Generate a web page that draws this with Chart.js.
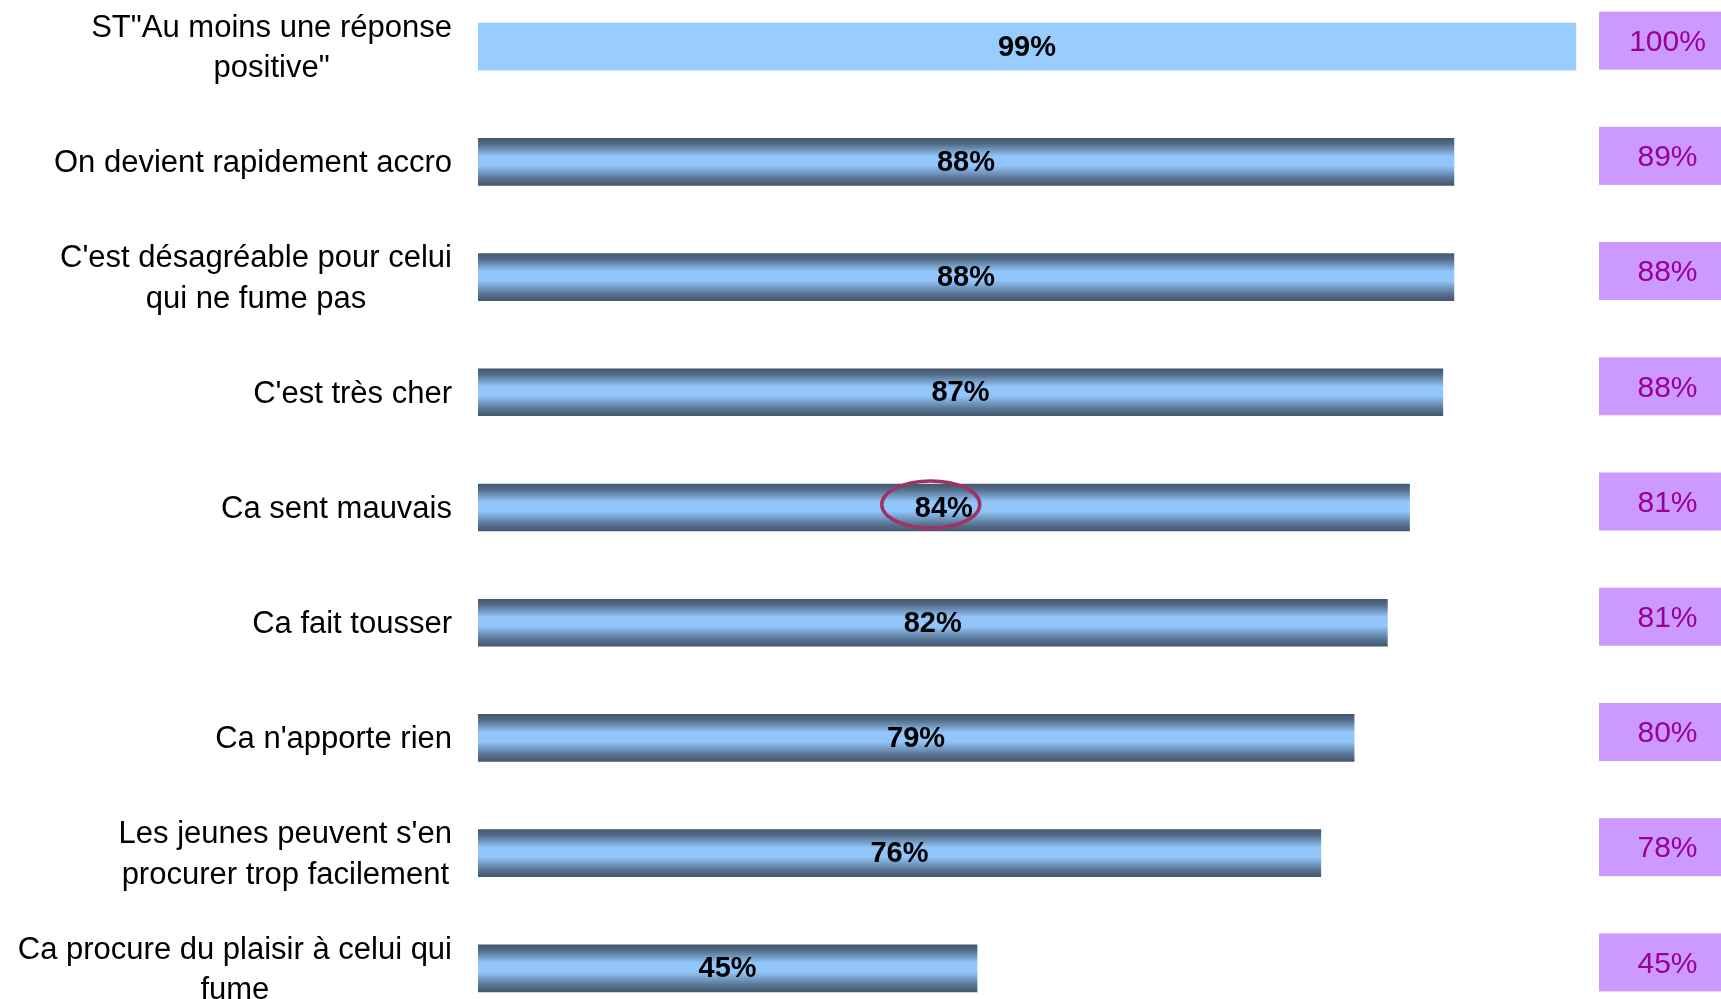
<!DOCTYPE html>
<html>
<head>
<meta charset="utf-8">
<script src="https://cdn.jsdelivr.net/npm/chart.js@4.4.1/dist/chart.umd.min.js"></script>
<style>
  html, body { margin: 0; padding: 0; background: #ffffff; overflow: hidden; }
  #wrap { position: absolute; left: 0; top: -11px; width: 1721px; height: 1037px; }
</style>
</head>
<body>
<div id="wrap"><canvas id="c"></canvas></div>
<script>
// ---- data ----
const categories = [
  ['ST"Au moins une réponse', 'positive"'],
  ['On devient rapidement accro'],
  ["C'est désagréable pour celui", 'qui ne fume pas'],
  ["C'est très cher"],
  ['Ca sent mauvais'],
  ['Ca fait tousser'],
  ["Ca n'apporte rien"],
  ["Les jeunes peuvent s'en", 'procurer trop facilement'],
  ['Ca procure du plaisir à celui qui', 'fume']
];
const values = [99, 88, 88, 87, 84, 82, 79, 76, 45];
const compareValues = [100, 89, 88, 88, 81, 81, 80, 78, 45];
const highlightIndex = 4;

const FONT = '"Liberation Sans", Arial, sans-serif';

function barFill(ctx) {
  const chart = ctx.chart;
  if (ctx.dataIndex === 0) return '#99CCFF';
  const ys = chart.scales && chart.scales.y;
  if (!ys || ys.getPixelForValue === undefined) return '#7FA8D6';
  const yc = ys.getPixelForValue(ctx.dataIndex);
  const h = 47;
  const g = chart.ctx.createLinearGradient(0, yc - h / 2, 0, yc + h / 2);
  g.addColorStop(0, '#44576F');
  g.addColorStop(0.12, '#536C88');
  g.addColorStop(0.38, '#92C5FA');
  g.addColorStop(0.58, '#92C5FA');
  g.addColorStop(0.85, '#5A7595');
  g.addColorStop(1, '#44576F');
  return g;
}

const overlay = {
  id: 'overlay',
  afterDatasetsDraw(chart) {
    const c = chart.ctx;
    const ys = chart.scales.y;
    const meta = chart.getDatasetMeta(0);
    c.save();
    // category labels
    c.fillStyle = '#000000';
    c.font = '31px ' + FONT;
    c.textBaseline = 'middle';
    c.textAlign = 'center';
    const rightEdge = 452;
    const lh = 40.6;
    categories.forEach((lines, i) => {
      const yc = ys.getPixelForValue(i);
      let maxW = 0;
      lines.forEach(l => { maxW = Math.max(maxW, c.measureText(l).width); });
      const cx = rightEdge - maxW / 2;
      const y0 = yc - (lines.length - 1) * lh / 2;
      lines.forEach((l, k) => c.fillText(l, cx, y0 + k * lh + 2));
    });
    // value labels inside bars
    c.font = 'bold 29px ' + FONT;
    meta.data.forEach((bar, i) => {
      const x = (bar.base + bar.x) / 2;
      c.fillText(values[i] + '%', x, bar.y + 1);
    });
    // highlight ellipse
    const hb = meta.data[highlightIndex];
    const hx = (hb.base + hb.x) / 2 - 13;
    c.beginPath();
    c.ellipse(hx, hb.y - 3, 49, 23.5, 0, 0, Math.PI * 2);
    c.strokeStyle = '#9E3366';
    c.lineWidth = 3.5;
    c.stroke();
    // comparison boxes
    c.font = '30px ' + FONT;
    compareValues.forEach((v, i) => {
      const yc = ys.getPixelForValue(i) - 6;
      c.fillStyle = '#CC99FF';
      c.fillRect(1599, yc - 29, 140, 58);
      c.fillStyle = '#990099';
      c.fillText(v + '%', 1667.5, yc + 2);
    });
    c.restore();
  }
};

new Chart(document.getElementById('c'), {
  type: 'bar',
  data: {
    labels: categories,
    datasets: [{
      data: values,
      backgroundColor: barFill,
      borderWidth: 0,
      barThickness: 47
    }]
  },
  options: {
    indexAxis: 'y',
    responsive: true,
    maintainAspectRatio: false,
    animation: false,
    layout: { padding: { left: 478, right: 134, top: 0, bottom: 0 } },
    plugins: { legend: { display: false }, tooltip: { enabled: false } },
    scales: {
      x: { display: false, min: 0, max: 100 },
      y: { display: false, grid: { display: false } }
    }
  },
  plugins: [overlay]
});
</script>
</body>
</html>
